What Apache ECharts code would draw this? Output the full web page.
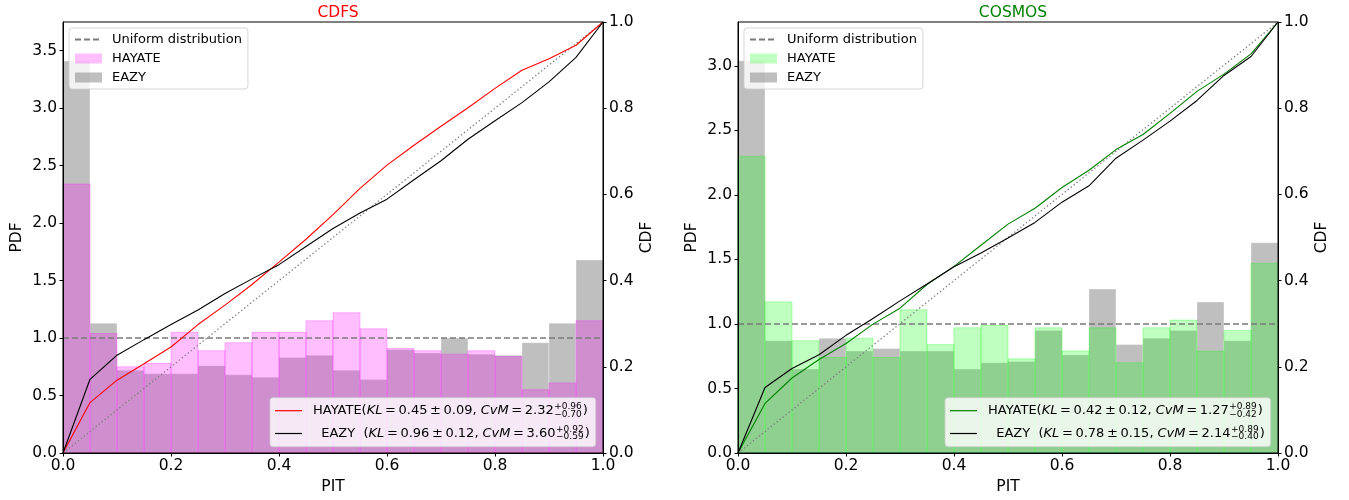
<!DOCTYPE html>
<html>
<head>
<meta charset="utf-8">
<title>PIT distributions: CDFS and COSMOS</title>
<script src="https://cdn.jsdelivr.net/npm/echarts@6/dist/echarts.min.js"></script>
<style>
  html, body { margin: 0; padding: 0; background: #fff; }
  #chart { width: 1349px; height: 500px; }
</style>
</head>
<body>
<div id="chart"></div>
<script>
// ---- data ---------------------------------------------------------------
// PIT histogram bin edges (20 bins of width 0.05) and CDF sample points
const pitEdges = [0.00, 0.05, 0.10, 0.15, 0.20, 0.25, 0.30, 0.35, 0.40, 0.45, 0.50,
                  0.55, 0.60, 0.65, 0.70, 0.75, 0.80, 0.85, 0.90, 0.95, 1.00];

// CDFS field
const cdfsHayatePdf = [2.34, 1.04, 0.75, 0.78, 1.05, 0.89, 0.96, 1.05, 1.05, 1.15,
                       1.22, 1.08, 0.91, 0.89, 0.86, 0.89, 0.84, 0.55, 0.61, 1.15];
const cdfsEazyPdf   = [3.41, 1.13, 0.72, 0.69, 0.69, 0.76, 0.68, 0.66, 0.83, 0.85,
                       0.72, 0.64, 0.90, 0.87, 1.00, 0.86, 0.85, 0.96, 1.13, 1.68];
const cdfsHayateCdf = [0, 0.117, 0.169, 0.207, 0.246, 0.298, 0.343, 0.391, 0.443, 0.496, 0.553,
                       0.614, 0.668, 0.714, 0.758, 0.801, 0.846, 0.888, 0.915, 0.946, 1.000];
const cdfsEazyCdf   = [0, 0.171, 0.227, 0.263, 0.298, 0.332, 0.370, 0.404, 0.437, 0.479, 0.521,
                       0.557, 0.589, 0.634, 0.678, 0.728, 0.771, 0.813, 0.861, 0.918, 1.000];

// COSMOS field
const cosmosHayatePdf = [2.30, 1.17, 0.87, 0.74, 0.89, 0.74, 1.11, 0.84, 0.97, 0.99,
                         0.73, 0.97, 0.79, 0.97, 0.70, 0.97, 1.03, 0.79, 0.95, 1.47];
const cosmosEazyPdf   = [3.04, 0.87, 0.65, 0.89, 0.79, 0.81, 0.79, 0.79, 0.65, 0.70,
                         0.71, 0.95, 0.76, 1.27, 0.84, 0.89, 0.95, 1.17, 0.87, 1.63];
const cosmosHayateCdf = [0, 0.115, 0.174, 0.217, 0.254, 0.299, 0.336, 0.391, 0.433, 0.482, 0.531,
                         0.568, 0.616, 0.656, 0.704, 0.739, 0.788, 0.839, 0.879, 0.926, 1.000];
const cosmosEazyCdf   = [0, 0.152, 0.196, 0.228, 0.273, 0.312, 0.353, 0.392, 0.432, 0.464, 0.499,
                         0.535, 0.582, 0.620, 0.684, 0.726, 0.770, 0.818, 0.876, 0.920, 1.000];

// goodness-of-fit statistics shown in the lower legends
const cdfsStats = [
  { label: 'HAYATE(',   kl: '0.45', klErr: '0.09', cvm: '2.32', up: '0.96', lo: '0.70' },
  { label: '  EAZY  (', kl: '0.96', klErr: '0.12', cvm: '3.60', up: '0.92', lo: '0.59' }
];
const cosmosStats = [
  { label: 'HAYATE(',   kl: '0.42', klErr: '0.12', cvm: '1.27', up: '0.89', lo: '0.42' },
  { label: '  EAZY  (', kl: '0.78', klErr: '0.15', cvm: '2.14', up: '0.89', lo: '0.40' }
];

// reference levels
const uniformLevel = 1.0;
const diagonal = [[0, 0], [1, 1]];

// axis ticks
const pitTicks = [0, 0.2, 0.4, 0.6, 0.8, 1.0];
const cdfTicks = [0, 0.2, 0.4, 0.6, 0.8, 1.0];
const cdfsPdfTicks = [0, 0.5, 1.0, 1.5, 2.0, 2.5, 3.0, 3.5];
const cosmosPdfTicks = [0, 0.5, 1.0, 1.5, 2.0, 2.5, 3.0];
const cdfsPdfMax = 3.75;
const cosmosPdfMax = 3.34;

// ---- layout & styles ----------------------------------------------------
const FONT = '"DejaVu Sans", sans-serif';
const FS = 15.5;
const GRID_TOP = 22, GRID_W = 540, GRID_H = 431;
const panels = [
  { left: 63,  title: 'CDFS',   titleColor: '#ff0000', lineColor: '#ff0000',
    hayatePdf: cdfsHayatePdf, eazyPdf: cdfsEazyPdf, hayateCdf: cdfsHayateCdf, eazyCdf: cdfsEazyCdf,
    hayateFill: 'rgba(255,0,255,0.25)', pdfMax: cdfsPdfMax, pdfTicks: cdfsPdfTicks, stats: cdfsStats },
  { left: 738, title: 'COSMOS', titleColor: '#008000', lineColor: '#008000',
    hayatePdf: cosmosHayatePdf, eazyPdf: cosmosEazyPdf, hayateCdf: cosmosHayateCdf, eazyCdf: cosmosEazyCdf,
    hayateFill: 'rgba(0,255,0,0.25)', pdfMax: cosmosPdfMax, pdfTicks: cosmosPdfTicks, stats: cosmosStats }
];
const EAZY_FILL = 'rgba(128,128,128,0.5)';
const TOP_Z = 100;

const fmt1 = v => v.toFixed(1);
const labelStyle = { fontSize: FS, fontFamily: FONT, color: '#000' };
const axisLineStyle = { lineStyle: { color: '#000', width: 1 } };

// histogram bars drawn as rectangles between bin edges
function histSeries(name, xi, yi, heights, fill, stroke, z) {
  return {
    type: 'custom', name, xAxisIndex: xi, yAxisIndex: yi, z,
    silent: true, animation: false,
    itemStyle: { color: fill },
    encode: { x: [0, 1], y: 2 },
    data: heights.map((h, i) => [pitEdges[i], pitEdges[i + 1], h]),
    renderItem: (params, api) => {
      const tl = api.coord([api.value(0), api.value(2)]);
      const br = api.coord([api.value(1), 0]);
      return {
        type: 'rect',
        shape: { x: tl[0], y: tl[1], width: br[0] - tl[0], height: br[1] - tl[1] },
        style: { fill: fill, stroke: stroke, lineWidth: 1 }
      };
    }
  };
}

// text measuring for the statistics legend
const mctx = document.createElement('canvas').getContext('2d');
const fontStr = (size, italic) => (italic ? 'italic ' : '') + size + 'px "DejaVu Sans"';
function textW(t, size, italic) { mctx.font = fontStr(size, italic); return mctx.measureText(t).width; }

function textEl(t, x, y, size, italic) {
  return { type: 'text', x, y, z: TOP_Z + 2, silent: true,
    style: { text: t, font: fontStr(size, italic), fill: '#000', verticalAlign: 'middle', align: 'left' } };
}

// one legend row: label, KL and CvM with stacked upper/lower errors
function statRow(s, x0, yMid) {
  const items = [];
  let x = x0;
  const MAIN = 13, SCR = 9, OP = 2.6;
  const put = (t, italic) => { items.push(textEl(t, x, yMid, MAIN, italic)); x += textW(t, MAIN, italic); };
  put(s.label, false);
  put('KL', true); x += OP; put('=', false); x += OP; put(s.kl, false);
  x += OP; put('±', false); x += OP; put(s.klErr + ',', false);
  x += 4; put('CvM', true); x += OP; put('=', false); x += OP; put(s.cvm, false);
  const sup = '+' + s.up, sub = '\u2212' + s.lo;
  items.push(textEl(sup, x + 0.5, yMid - 4, SCR, false));
  items.push(textEl(sub, x + 0.5, yMid + 3.6, SCR, false));
  x += Math.max(textW(sup, SCR, false), textW(sub, SCR, false)) + 1.5;
  put(')', false);
  return { items, width: x - x0 };
}

function statsLegend(p) {
  const BOX_H = 49, ROWS = [13, 35.8], TEXT_X = 43;
  const rowColors = [p.lineColor, '#000'];
  const children = [];
  let maxW = 0;
  p.stats.forEach((s, i) => {
    const r = statRow(s, TEXT_X, ROWS[i]);
    maxW = Math.max(maxW, r.width);
    children.push({ type: 'line', silent: true, z: TOP_Z + 1,
      shape: { x1: 5, y1: ROWS[i], x2: 32, y2: ROWS[i] },
      style: { stroke: rowColors[i], lineWidth: 1.2 } });
    children.push(...r.items);
  });
  const boxW = TEXT_X + maxW + 6;
  children.unshift({ type: 'rect', silent: true, z: TOP_Z,
    shape: { x: 0, y: 0, width: boxW, height: BOX_H, r: 3 },
    style: { fill: 'rgba(255,255,255,0.8)', stroke: 'rgba(204,204,204,0.8)', lineWidth: 1 } });
  return {
    type: 'group', z: TOP_Z,
    x: p.left + GRID_W - 7.3 - boxW,
    y: GRID_TOP + GRID_H - 6.3 - BOX_H,
    children
  };
}

// ---- option -------------------------------------------------------------
const grid = [], xAxis = [], yAxis = [], series = [], title = [], legend = [], graphic = [];

panels.forEach((p, k) => {
  grid.push({ left: p.left, top: GRID_TOP, width: GRID_W, height: GRID_H,
    show: true, borderColor: '#000', borderWidth: 1, backgroundColor: 'transparent', z: 10 });

  title.push({ text: p.title, left: p.left + GRID_W / 2, top: 0, textAlign: 'center',
    textStyle: { fontSize: FS, fontWeight: 'normal', fontFamily: FONT, color: p.titleColor } });

  xAxis.push({ gridIndex: k, type: 'value', min: 0, max: 1, interval: 0.2, z: 10,
    name: 'PIT', nameLocation: 'middle', nameGap: 25, nameTextStyle: labelStyle,
    axisLine: axisLineStyle, splitLine: { show: false },
    axisTick: { length: 3.5, lineStyle: { color: '#000' }, customValues: pitTicks },
    axisLabel: Object.assign({ margin: 5, formatter: fmt1, customValues: pitTicks }, labelStyle) });

  const pdfIdx = yAxis.length;
  yAxis.push({ gridIndex: k, type: 'value', position: 'left', min: 0, max: p.pdfMax, z: 10,
    name: 'PDF', nameLocation: 'middle', nameRotate: 90, nameGap: 38, nameTextStyle: labelStyle,
    axisLine: Object.assign({ show: true }, axisLineStyle), splitLine: { show: false },
    axisTick: { show: true, length: 3.5, lineStyle: { color: '#000' }, customValues: p.pdfTicks },
    axisLabel: Object.assign({ margin: 6, formatter: fmt1, customValues: p.pdfTicks }, labelStyle) });

  const cdfIdx = yAxis.length;
  yAxis.push({ gridIndex: k, type: 'value', position: 'right', min: 0, max: 1, interval: 0.2, z: 10,
    name: 'CDF', nameLocation: 'middle', nameRotate: 90, nameGap: 36, nameTextStyle: labelStyle,
    axisLine: Object.assign({ show: true }, axisLineStyle), splitLine: { show: false },
    axisTick: { show: true, length: 3.5, lineStyle: { color: '#000' }, customValues: cdfTicks },
    axisLabel: Object.assign({ margin: 6, formatter: fmt1, customValues: cdfTicks }, labelStyle) });

  // histograms: EAZY underneath, HAYATE on top
  series.push(histSeries('EAZY', k, pdfIdx, p.eazyPdf, EAZY_FILL, 'rgba(255,255,255,0.35)', 2));
  series.push(histSeries('HAYATE', k, pdfIdx, p.hayatePdf, p.hayateFill, p.hayateFill, 3));

  series.push({ type: 'line', name: 'Uniform distribution', xAxisIndex: k, yAxisIndex: pdfIdx,
    data: [[0, uniformLevel], [1, uniformLevel]], symbol: 'none', silent: true, animation: false, z: 4,
    itemStyle: { color: 'rgba(0,0,0,0)', borderWidth: 0 },
    lineStyle: { color: '#7a7a7a', width: 1.5, type: [6, 3] } });

  series.push({ type: 'line', name: 'uniform CDF', xAxisIndex: k, yAxisIndex: cdfIdx,
    data: diagonal, symbol: 'none', silent: true, animation: false, z: 4,
    lineStyle: { color: '#808080', width: 1.3, type: [1.4, 2.4] } });

  series.push({ type: 'line', name: 'HAYATE CDF', xAxisIndex: k, yAxisIndex: cdfIdx,
    data: pitEdges.map((x, i) => [x, p.hayateCdf[i]]), symbol: 'none', silent: true, animation: false, z: 5,
    lineStyle: { color: p.lineColor, width: 1.1 } });

  series.push({ type: 'line', name: 'EAZY CDF', xAxisIndex: k, yAxisIndex: cdfIdx,
    data: pitEdges.map((x, i) => [x, p.eazyCdf[i]]), symbol: 'none', silent: true, animation: false, z: 5,
    lineStyle: { color: '#000', width: 1.1 } });

  legend.push({ orient: 'vertical', left: p.left + 6, top: 28, z: 30, selectedMode: false,
    padding: [5, 6, 5, 5], itemWidth: 27, itemHeight: 10, itemGap: 6,
    backgroundColor: 'rgba(255,255,255,0.8)', borderColor: 'rgba(204,204,204,0.8)', borderWidth: 1, borderRadius: 3,
    textStyle: { fontSize: 13, fontFamily: FONT, color: '#000', padding: [0, 0, 0, 5] },
    data: [
      { name: 'Uniform distribution', itemStyle: { color: 'rgba(0,0,0,0)', borderWidth: 0 } },
      { name: 'HAYATE', icon: 'rect', itemStyle: { color: p.hayateFill, borderWidth: 0 } },
      { name: 'EAZY', icon: 'rect', itemStyle: { color: EAZY_FILL, borderWidth: 0 } }
    ] });

  graphic.push(statsLegend(p));
});

const chart = echarts.init(document.getElementById('chart'), null, { renderer: 'canvas' });
chart.setOption({
  animation: false,
  backgroundColor: '#fff',
  textStyle: { fontFamily: FONT },
  title, grid, xAxis, yAxis, series, legend, graphic
});
</script>
</body>
</html>
